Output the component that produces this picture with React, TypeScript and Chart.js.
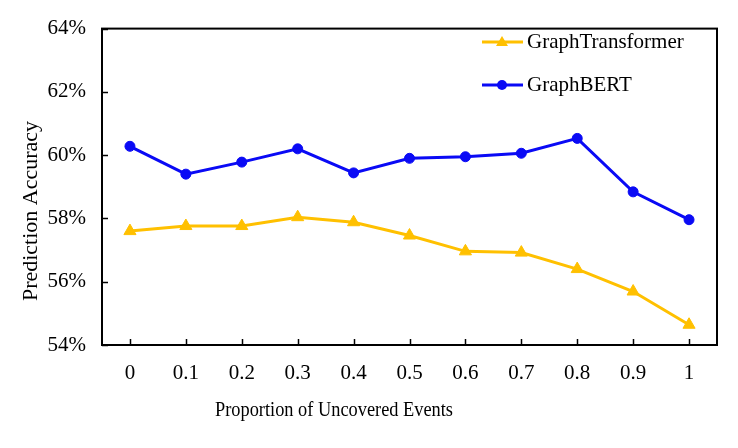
import React, { useEffect, useRef } from "react";
import { Chart, registerables } from "chart.js";

Chart.register(...registerables);

const categories = ["0", "0.1", "0.2", "0.3", "0.4", "0.5", "0.6", "0.7", "0.8", "0.9", "1"];
const graphTransformer = [57.6, 57.76, 57.76, 58.04, 57.88, 57.46, 56.96, 56.92, 56.4, 55.69, 54.64];
const graphBERT = [60.28, 59.4, 59.78, 60.2, 59.44, 59.9, 59.95, 60.06, 60.53, 58.84, 57.96];
const seriesNames = ["GraphTransformer", "GraphBERT"];
const yTicks = [54, 56, 58, 60, 62, 64];
const xTitle = "Proportion of Uncovered Events";
const yTitle = "Prediction Accuracy";

const YELLOW = "#FFC000";
const BLUE = "#0A0AF5";
const FONT = "'Liberation Serif', 'Times New Roman', serif";

export default function App() {
  const ref = useRef<HTMLCanvasElement | null>(null);
  useEffect(() => {
    const canvas = ref.current;
    if (!canvas) return;

    const decor = {
      id: "decor",
      beforeDatasetsDraw(chart: any) {
        const { ctx, chartArea } = chart;
        const { left, right, top, bottom } = chartArea;
        ctx.save();
        ctx.strokeStyle = "#000";
        ctx.lineWidth = 2;
        ctx.strokeRect(left, top, right - left, bottom - top);
        ctx.lineWidth = 1.5;
        const ys = chart.scales.y;
        yTicks.forEach((v) => {
          const py = Math.round(ys.getPixelForValue(v)) + 0.5;
          ctx.beginPath();
          ctx.moveTo(left, py);
          ctx.lineTo(left + 6, py);
          ctx.stroke();
        });
        const xs = chart.scales.x;
        categories.forEach((_, i) => {
          const px = Math.round(xs.getPixelForValue(i)) + 0.5;
          ctx.beginPath();
          ctx.moveTo(px, bottom);
          ctx.lineTo(px, bottom - 6);
          ctx.stroke();
        });
        // axis titles
        ctx.fillStyle = "#000";
        ctx.textAlign = "center";
        ctx.textBaseline = "middle";
        ctx.font = `22px ${FONT}`;
        ctx.fillText(xTitle, 334, 410, 238);
        ctx.save();
        ctx.translate(31, 211);
        ctx.rotate(-Math.PI / 2);
        ctx.font = `22px ${FONT}`;
        ctx.fillText(yTitle, 0, 0);
        ctx.restore();
        ctx.restore();
      },
      afterDraw(chart: any) {
        const { ctx } = chart;
        ctx.save();
        const rows = [
          { name: seriesNames[0], color: YELLOW, y: 42, tri: true },
          { name: seriesNames[1], color: BLUE, y: 85, tri: false },
        ];
        rows.forEach((r) => {
          ctx.strokeStyle = r.color;
          ctx.fillStyle = r.color;
          ctx.lineWidth = 3;
          ctx.beginPath();
          ctx.moveTo(482, r.y);
          ctx.lineTo(523, r.y);
          ctx.stroke();
          const cx = 502;
          ctx.beginPath();
          if (r.tri) {
            ctx.moveTo(cx, r.y - 6);
            ctx.lineTo(cx + 6, r.y + 4);
            ctx.lineTo(cx - 6, r.y + 4);
            ctx.closePath();
          } else {
            ctx.arc(cx, r.y, 5, 0, Math.PI * 2);
          }
          ctx.fill();
          ctx.fillStyle = "#000";
          ctx.font = `21px ${FONT}`;
          ctx.textAlign = "left";
          ctx.textBaseline = "middle";
          ctx.fillText(r.name, 527, r.y);
        });
        ctx.restore();
      },
    };

    const chart = new Chart(canvas, {
      type: "line",
      data: {
        labels: categories,
        datasets: [
          {
            label: seriesNames[0],
            data: graphTransformer,
            borderColor: YELLOW,
            backgroundColor: YELLOW,
            borderWidth: 3,
            pointStyle: "triangle",
            pointRadius: 7,
            pointBorderWidth: 1,
            tension: 0,
          },
          {
            label: seriesNames[1],
            data: graphBERT,
            borderColor: BLUE,
            backgroundColor: BLUE,
            borderWidth: 3,
            pointStyle: "circle",
            pointRadius: 5,
            pointBorderWidth: 1,
            tension: 0,
          },
        ],
      },
      options: {
        responsive: false,
        animation: false,
        layout: { padding: { top: 23, right: 21, left: 0, bottom: 0 } },
        plugins: { legend: { display: false }, tooltip: { enabled: false } },
        scales: {
          x: {
            type: "category",
            offset: true,
            grid: { display: false, drawTicks: false },
            border: { display: false },
            ticks: { color: "#000", font: { family: FONT, size: 21 }, padding: 16 },
            afterFit(scale: any) {
              scale.height = 103;
            },
          },
          y: {
            min: 54,
            max: 64,
            grid: { display: false, drawTicks: false },
            border: { display: false },
            ticks: {
              stepSize: 2,
              color: "#000",
              font: { family: FONT, size: 21 },
              padding: 16,
              callback: (v: any) => `${v}%`,
            },
            afterFit(scale: any) {
              scale.width = 102;
            },
          },
        },
      },
      plugins: [decor],
    });
    return () => chart.destroy();
  }, []);

  return (
    <div style={{ position: "absolute", left: 0, top: 0, width: 738, height: 448, background: "#fff" }}>
      <canvas ref={ref} width={738} height={448} />
    </div>
  );
}
